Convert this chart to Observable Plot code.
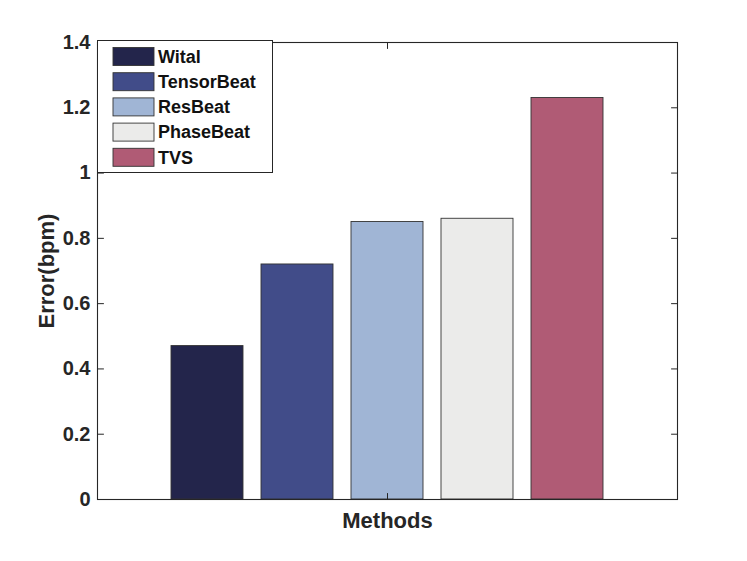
<!DOCTYPE html>
<html>
<head>
<meta charset="utf-8">
<script src="https://cdn.jsdelivr.net/npm/d3@7"></script>
<script src="https://cdn.jsdelivr.net/npm/@observablehq/plot@0.6"></script>
<style>
  html, body { margin: 0; padding: 0; background: #fff; }
  #chart { position: relative; width: 747px; height: 561px; }
  svg { font-family: "Liberation Sans", Arial, Helvetica, sans-serif; }
</style>
</head>
<body>
<div id="chart"></div>
<script>
const methods = ["Wital", "TensorBeat", "ResBeat", "PhaseBeat", "TVS"];
const errors = [0.47, 0.72, 0.85, 0.86, 1.23];
const colors = ["#23254b", "#414c89", "#a0b5d5", "#ebebea", "#b05b75"];
const yTicks = [0, 0.2, 0.4, 0.6, 0.8, 1, 1.2, 1.4];
const yTickLabels = ["0", "0.2", "0.4", "0.6", "0.8", "1", "1.2", "1.4"];
const xTick = ["ResBeat"];
const xLabel = "Methods";
const yLabel = "Error(bpm)";

const data = methods.map((m, i) => ({method: m, error: errors[i], color: colors[i]}));
const ink = "#262626";
const tickShape = {draw(ctx, l) { ctx.moveTo(0, 0); ctx.lineTo(0, -l); }};

const plot = Plot.plot({
  width: 747,
  height: 561,
  marginLeft: 97,
  marginRight: 70,
  marginTop: 42,
  marginBottom: 62,
  style: {fontFamily: '"Liberation Sans", Arial, sans-serif', color: ink, background: "white"},
  x: {type: "band", domain: methods, paddingInner: 0.2, paddingOuter: 0.808, axis: null},
  y: {domain: [0, 1.4], axis: null},
  marks: [
    Plot.barY(data, {x: "method", y: "error", fill: "color", stroke: "#333", strokeWidth: 0.9}),
    Plot.frame({stroke: ink, strokeWidth: 1.1}),
    Plot.axisY(yTicks, {
      anchor: "left", tickSize: 0, tickPadding: 7,
      tickFormat: (d) => yTickLabels[yTicks.indexOf(d)],
      fontSize: 20, fontWeight: "bold", fill: ink, label: null
    }),
    Plot.vector(yTicks, {y: d => d, frameAnchor: "left", rotate: 90, length: 6, anchor: "start", shape: tickShape, stroke: ink, strokeWidth: 1}),
    Plot.vector(yTicks, {y: d => d, frameAnchor: "right", rotate: -90, length: 6, anchor: "start", shape: tickShape, stroke: ink, strokeWidth: 1}),
    Plot.vector(xTick, {x: d => d, frameAnchor: "bottom", rotate: 0, length: 6, anchor: "start", shape: tickShape, stroke: ink, strokeWidth: 1}),
    Plot.vector(xTick, {x: d => d, frameAnchor: "top", rotate: 180, length: 6, anchor: "start", shape: tickShape, stroke: ink, strokeWidth: 1}),
    Plot.text([yLabel], {text: d => d, frameAnchor: "left", textAnchor: "middle", lineAnchor: "middle", dx: -51, rotate: -90, fontSize: 22, fontWeight: "bold", fill: ink}),
    Plot.text([xLabel], {text: d => d, frameAnchor: "bottom", textAnchor: "middle", lineAnchor: "middle", dy: 21, fontSize: 22, fontWeight: "bold", fill: ink})
  ]
});

document.getElementById("chart").appendChild(plot);

// Legend overlaid in the upper-left corner of the axes
const svg = d3.select(plot);
const lg = svg.append("g").attr("transform", "translate(97.5,40.5)");
lg.append("rect").attr("width", 175).attr("height", 132)
  .attr("fill", "white").attr("stroke", ink).attr("stroke-width", 1);
methods.forEach((m, i) => {
  const cy = 16 + i * 25.2;
  lg.append("rect").attr("x", 15.5).attr("y", cy - 9).attr("width", 41).attr("height", 18)
    .attr("fill", colors[i]).attr("stroke", "#333").attr("stroke-width", 0.9);
  lg.append("text").attr("x", 60.5).attr("y", cy).attr("dy", "0.35em")
    .attr("text-anchor", "start")
    .attr("font-size", 18).attr("font-weight", "bold").attr("fill", "#111").text(m);
});
</script>
</body>
</html>
